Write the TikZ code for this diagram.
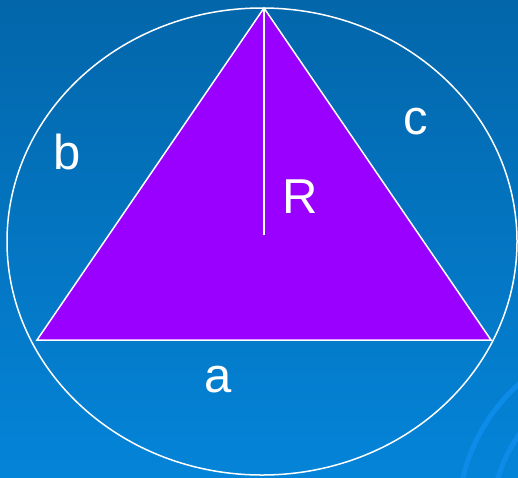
\documentclass[tikz,border=0pt]{standalone}
\usepackage{fontspec}
\setmainfont{Liberation Sans}
\usepackage{tikz}

\begin{document}
\begin{tikzpicture}[
    x=1pt, y=-1pt,
    side/.style={text=white, font=\fontsize{49}{56}\selectfont, inner sep=0pt},
    edge/.style={draw=white, line width=1.5pt},
    swirl/.style={draw={rgb,255:red,12;green,140;blue,232}, line width=5pt}
    ]

    % background
    \fill[top color={rgb,255:red,3;green,102;blue,170}, bottom color={rgb,255:red,4;green,132;blue,216}]
        (0,0) rectangle (518,477);
    \useasboundingbox (0,0) rectangle (518,477);
    \begin{scope}
        \clip (0,0) rectangle (518,477);
        \draw[swirl] (640,520) circle (182);
        \draw[swirl] (640,520) circle (148);
    \end{scope}

    \coordinate (top) at (264,8);
    \coordinate (left) at (37,340);
    \coordinate (right) at (491,340);
    \coordinate (centre) at (264,235);

    \draw[edge, fill={rgb,255:red,153;green,0;blue,255}] (top) -- (left) -- (right) -- cycle;
    \draw[edge] (262,241.5) ellipse (255 and 233.5);
    \draw[edge] (top) -- (centre);

    \node[side] (a) at (218,380) {a};
    \node[side] (b) at (67,152) {b};
    \node[side] (c) at (416,122) {c};
    \node[side] (R) at (300,197) {R};

\end{tikzpicture}
\end{document}
